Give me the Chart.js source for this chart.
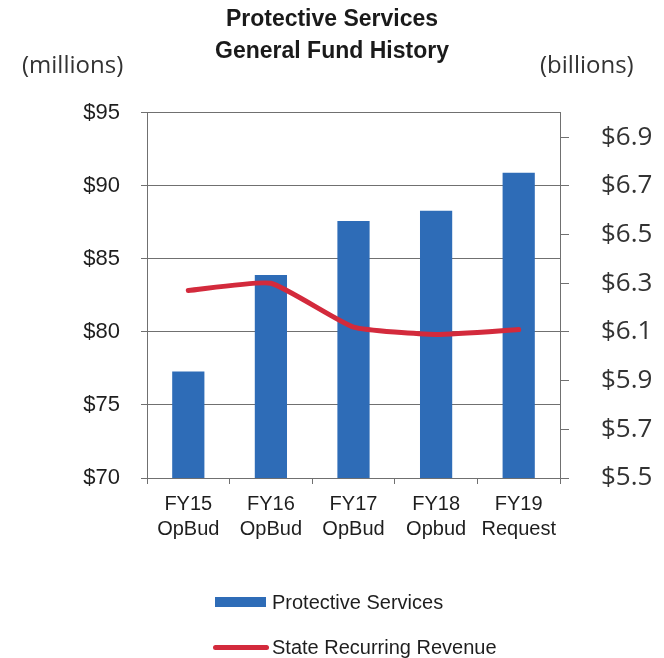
<!DOCTYPE html>
<html>
<head>
<meta charset="utf-8">
<script src="https://cdn.jsdelivr.net/npm/chart.js@4"></script>
<style>
	html, body { margin: 0; padding: 0; background: #fff; }
	#wrap { position: relative; width: 664px; height: 658px; }
	#legend { position: absolute; left: 0; top: 0; font: 20px 'Liberation Sans', Arial, sans-serif; color: #1e1e1e; }
	.item { position: absolute; display: flex; align-items: center; white-space: nowrap; height: 24px; }
	.swatch { display: inline-block; margin-right: 6px; }
</style>
</head>
<body>
<div id="wrap">
	<canvas id="myChart" width="664" height="658"></canvas>
	<div id="legend"></div>
</div>
<script>
// -- DATA ---------------//
const Categories = [['FY15', 'OpBud'], ['FY16', 'OpBud'], ['FY17', 'OpBud'], ['FY18', 'Opbud'], ['FY19', 'Request']];
const Protective = [77.3, 83.9, 87.6, 88.3, 90.9];     // millions
const Revenue = [6.27, 6.30, 6.12, 6.09, 6.11];        // billions
const LeftTicks = [70, 75, 80, 85, 90, 95];
const RightTicks = [5.5, 5.7, 5.9, 6.1, 6.3, 6.5, 6.7, 6.9];

const sansFont = "'Liberation Sans', Arial, sans-serif";
const unitFont = "'Open Sans', sans-serif";
const axisGray = '#707070';

// draws the (millions) / (billions) labels above the axes
const unitLabels = {
	id: 'unitLabels',
	afterDraw(chart) {
		const ctx = chart.ctx;
		ctx.save();
		ctx.font = '24px ' + unitFont;
		ctx.fillStyle = '#333';
		ctx.textBaseline = 'middle';
		ctx.textAlign = 'left';
		ctx.fillText('(millions)', 22, 66);
		ctx.fillText('(billions)', 540, 66);
		ctx.restore();
	}
};

const ctx = document.getElementById('myChart').getContext('2d');

const myChart = new Chart(ctx, {
	data: {
		labels: Categories,
		datasets: [
			{
				type: 'line',
				label: 'State Recurring Revenue',
				data: Revenue,
				yAxisID: 'y1',
				borderColor: '#d32a3c',
				borderWidth: 5,
				borderCapStyle: 'round',
				borderJoinStyle: 'round',
				pointRadius: 0,
				tension: 0.15,
				fill: false,
				order: 1,
			},
			{
				type: 'bar',
				label: 'Protective Services',
				data: Protective,
				yAxisID: 'y',
				backgroundColor: '#2e6cb7',
				categoryPercentage: 1,
				barPercentage: 0.39,
				order: 2,
			},
		],
	},
	options: {
		responsive: false,
		maintainAspectRatio: false,
		animation: false,
		devicePixelRatio: 1,
		layout: {
			padding: { top: 0, bottom: 90, left: 0, right: 0 }
		},
		plugins: {
			legend: { display: false }, // html legend below
			tooltip: { enabled: false },
			title: {
				display: true,
				text: ['Protective Services', 'General Fund History'],
				color: '#1a1a1a',
				font: { family: sansFont, size: 23, weight: 'bold', lineHeight: 1.39 },
				padding: { top: 4, bottom: 45 },
			},
		},
		scales: {
			x: {
				grid: {
					offset: true,
					drawOnChartArea: false,
					tickLength: 6,
					color: axisGray,
				},
				border: { color: axisGray },
				ticks: {
					color: '#1e1e1e',
					padding: 8,
					maxRotation: 0,
					font: { family: sansFont, size: 20, lineHeight: 1.25 },
				},
				afterFit: (s) => { s.height = 90; },
			},
			y: {
				position: 'left',
				min: 70,
				max: 95,
				afterBuildTicks: (s) => { s.ticks = LeftTicks.map(v => ({ value: v })); },
				grid: { color: axisGray, tickLength: 6 },
				border: { color: axisGray },
				ticks: {
					color: '#1e1e1e',
					padding: 21,
					font: { family: sansFont, size: 22 },
					callback: (v) => '$' + v,
				},
				afterFit: (s) => { s.width = 147; },
			},
			y1: {
				position: 'right',
				min: 5.5,
				max: 7.0,
				afterBuildTicks: (s) => { s.ticks = RightTicks.map(v => ({ value: v })); },
				grid: { drawOnChartArea: false, color: axisGray, tickLength: 9 },
				border: { color: axisGray },
				ticks: {
					color: '#333',
					padding: 32,
					font: { family: unitFont, size: 26 },
					callback: (v) => '$' + Number(v).toFixed(1),
				},
				afterFit: (s) => { s.width = 104; },
			},
		},
	},
	plugins: [unitLabels],
});

// -- HTML LEGEND (built from the datasets) ---------------
const legendEl = document.getElementById('legend');
const legendRows = [
	{ ds: myChart.data.datasets[1], left: 215, top: 590, w: 51, h: 10, round: false },
	{ ds: myChart.data.datasets[0], left: 213, top: 635, w: 56, h: 5, round: true },
];
legendRows.forEach(function (row) {
	const item = document.createElement('div');
	item.className = 'item';
	item.style.left = row.left + 'px';
	item.style.top = row.top + 'px';
	const sw = document.createElement('span');
	sw.className = 'swatch';
	sw.style.width = row.w + 'px';
	sw.style.height = row.h + 'px';
	sw.style.background = row.ds.type === 'bar' ? row.ds.backgroundColor : row.ds.borderColor;
	if (row.round) sw.style.borderRadius = '3px';
	if (row.round) sw.style.marginRight = '3px';
	item.appendChild(sw);
	item.appendChild(document.createTextNode(row.ds.label));
	legendEl.appendChild(item);
});
</script>
</body>
</html>
